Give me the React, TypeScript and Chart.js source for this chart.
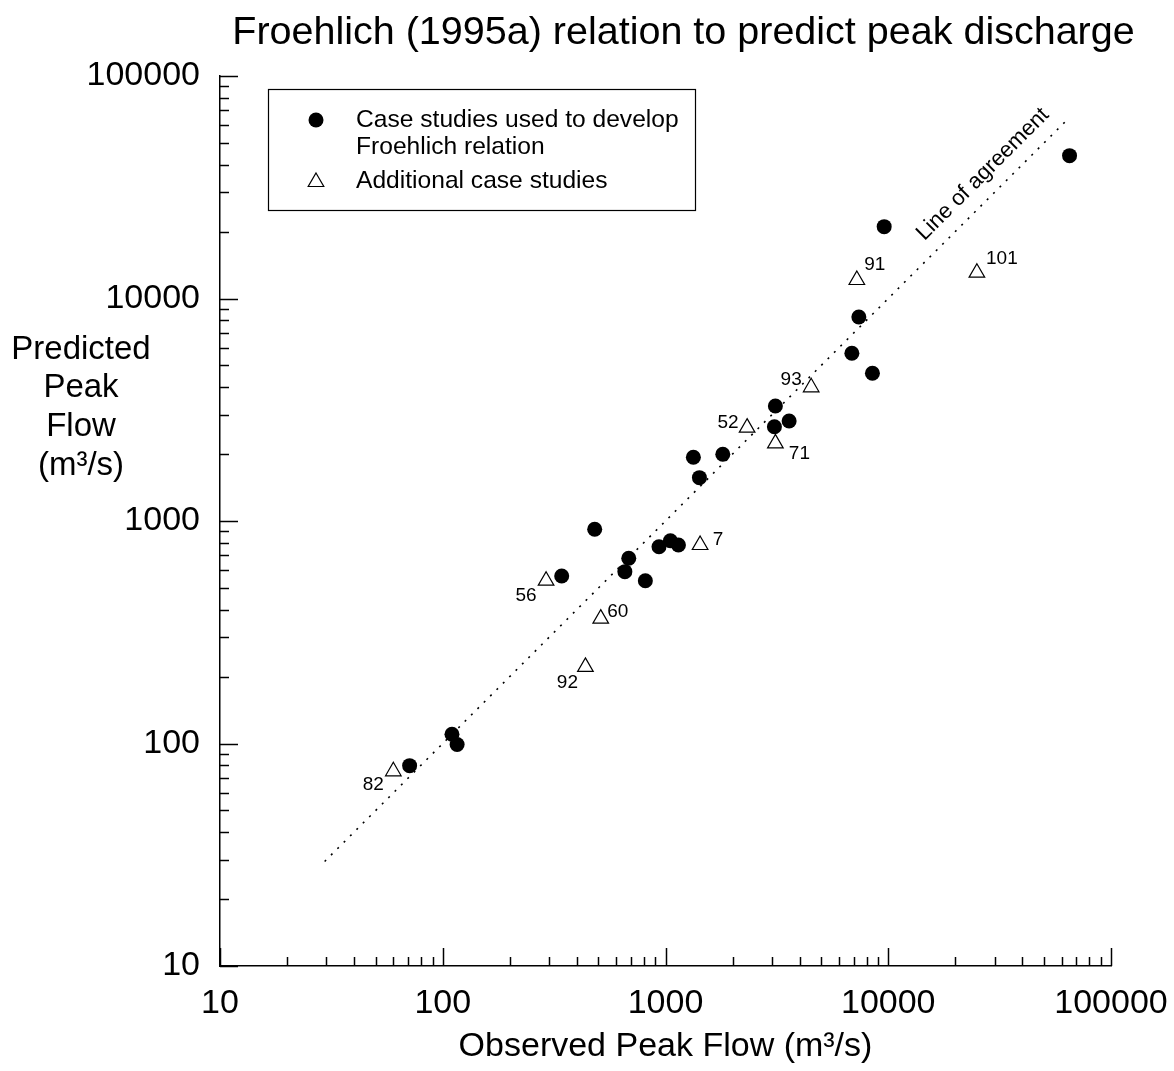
import React, { useEffect, useRef } from "react";
import { Chart, registerables } from "chart.js";

Chart.register(...registerables);

const FONT = '"Liberation Sans", Arial, Helvetica, sans-serif';

// Tick labels (powers of ten on both log axes)
const X_TICKS = [10, 100, 1000, 10000, 100000];
const Y_TICKS = [10, 100, 1000, 10000, 100000];

// Case studies used to develop Froehlich relation (observed, predicted) m^3/s
const developObserved = [71, 110, 116, 342, 481, 657, 684, 812, 935, 1052, 1143, 1334, 1420, 1808, 3114, 3083, 3589, 6866, 7379, 8492, 9589, 65150];
const developPredicted = [79.5, 110, 99, 566, 918, 592, 680, 539, 766, 815, 780, 1933, 1566, 1994, 3288, 2654, 2813, 5673, 8260, 4612, 21030, 43850];

// Additional case studies
const additionalLabels = ["82", "56", "60", "92", "7", "52", "71", "93", "91", "101"];
const additionalObserved = [60, 291, 512, 437, 1430, 2325, 3114, 4508, 7227, 25000];
const additionalPredicted = [75, 539, 364, 221, 780, 2627, 2234, 3990, 12110, 13060];

// Line of agreement (y = x) extent
const agreementRange = [29.5, 64000];
const agreementLabelAt = 31000;

const TITLE = "Froehlich (1995a) relation to predict peak discharge";
const X_TITLE = "Observed Peak Flow (m\u00B3/s)";
const Y_TITLE_LINES = ["Predicted", "Peak", "Flow", "(m\u00B3/s)"];
const LEGEND_LINES_1 = ["Case studies used to develop", "Froehlich relation"];
const LEGEND_LINE_2 = "Additional case studies";

// label offsets (style) for the numbered triangles, in px
const LABEL_OFFSETS: Record<string, [number, number]> = {
  "82": [-20, 13],
  "56": [-20, 15],
  "60": [17, -7],
  "92": [-18, 16],
  "7": [18, -5],
  "52": [-19, -5],
  "71": [24, 10],
  "93": [-20, -8],
  "91": [18, -15],
  "101": [25, -14],
};

function triangle(ctx: CanvasRenderingContext2D, x: number, y: number, r: number) {
  ctx.beginPath();
  let a = 0;
  ctx.moveTo(x + Math.sin(a) * r, y - Math.cos(a) * r);
  a += (2 * Math.PI) / 3;
  ctx.lineTo(x + Math.sin(a) * r, y - Math.cos(a) * r);
  a += (2 * Math.PI) / 3;
  ctx.lineTo(x + Math.sin(a) * r, y - Math.cos(a) * r);
  ctx.closePath();
}

const decorPlugin = {
  id: "decor",
  afterDatasetsDraw(chart: any) {
    const ctx: CanvasRenderingContext2D = chart.ctx;
    const xs = chart.scales.x;
    const ys = chart.scales.y;
    const { left, bottom } = chart.chartArea;
    ctx.save();

    // title
    ctx.fillStyle = "#000";
    ctx.font = `39.5px ${FONT}`;
    ctx.textAlign = "center";
    ctx.textBaseline = "middle";
    ctx.fillText(TITLE, 683.5, 33);

    // inward tick marks
    ctx.strokeStyle = "#000";
    ctx.lineWidth = 1.5;
    const lo = Math.log10(X_TICKS[0]);
    const hi = Math.log10(X_TICKS[X_TICKS.length - 1]);
    for (let e = lo; e <= hi; e++) {
      for (let k = 1; k <= 9; k++) {
        const v = k * Math.pow(10, e);
        if (v > Math.pow(10, hi) + 1e-9) break;
        const len = k === 1 ? 18 : 9;
        const px = Math.round(xs.getPixelForValue(v)) + 0.5;
        ctx.beginPath();
        ctx.moveTo(px, bottom);
        ctx.lineTo(px, bottom - len);
        ctx.stroke();
        const py = Math.round(ys.getPixelForValue(v)) + 0.5;
        ctx.beginPath();
        ctx.moveTo(left, py);
        ctx.lineTo(left + len, py);
        ctx.stroke();
      }
    }

    // numbered labels for the additional case studies
    ctx.fillStyle = "#000";
    ctx.font = `19px ${FONT}`;
    ctx.textAlign = "center";
    ctx.textBaseline = "middle";
    additionalLabels.forEach((lab, i) => {
      const px = xs.getPixelForValue(additionalObserved[i]);
      const py = ys.getPixelForValue(additionalPredicted[i]);
      const off = LABEL_OFFSETS[lab] || [15, -10];
      ctx.fillText(lab, px + off[0], py + off[1]);
    });

    // "Line of agreement" rotated text
    const p1x = xs.getPixelForValue(1000), p1y = ys.getPixelForValue(1000);
    const p2x = xs.getPixelForValue(10000), p2y = ys.getPixelForValue(10000);
    const ang = Math.atan2(p2y - p1y, p2x - p1x);
    const ax = xs.getPixelForValue(agreementLabelAt);
    const ay = ys.getPixelForValue(agreementLabelAt);
    ctx.save();
    ctx.translate(ax, ay);
    ctx.rotate(ang);
    ctx.font = `22px ${FONT}`;
    ctx.fillText("Line of agreement", 0, -21);
    ctx.restore();

    // legend box
    ctx.fillStyle = "#fff";
    ctx.fillRect(268.5, 89.5, 427, 121);
    ctx.strokeStyle = "#000";
    ctx.lineWidth = 1.2;
    ctx.strokeRect(268.5, 89.5, 427, 121);
    ctx.fillStyle = "#000";
    ctx.beginPath();
    ctx.arc(316, 120, 7.5, 0, Math.PI * 2);
    ctx.fill();
    triangle(ctx, 316, 182, 9);
    ctx.fillStyle = "#fff";
    ctx.fill();
    ctx.lineWidth = 1.2;
    ctx.stroke();
    ctx.fillStyle = "#000";
    ctx.font = `24.6px ${FONT}`;
    ctx.textAlign = "left";
    ctx.textBaseline = "middle";
    ctx.fillText(LEGEND_LINES_1[0], 356, 120);
    ctx.fillText(LEGEND_LINES_1[1], 356, 147);
    ctx.fillText(LEGEND_LINE_2, 356, 181);

    // y-axis title (horizontal, multi-line)
    ctx.font = `33px ${FONT}`;
    ctx.textAlign = "center";
    ctx.textBaseline = "alphabetic";
    const baselines = [359, 397, 436, 475];
    Y_TITLE_LINES.forEach((t, i) => ctx.fillText(t, 81, baselines[i]));

    ctx.restore();
  },
};

export default function App() {
  const ref = useRef<HTMLCanvasElement | null>(null);

  useEffect(() => {
    const canvas = ref.current;
    if (!canvas) return;
    Chart.defaults.font.family = FONT;
    Chart.defaults.color = "#000";
    const chart = new Chart(canvas, {
      type: "scatter",
      data: {
        datasets: [
          {
            label: "Line of agreement",
            data: agreementRange.map((v) => ({ x: v, y: v })),
            showLine: true,
            borderColor: "#000",
            borderWidth: 1.6,
            borderDash: [2, 7],
            pointRadius: 0,
            fill: false,
            order: 3,
          },
          {
            label: "Case studies used to develop Froehlich relation",
            data: developObserved.map((x, i) => ({ x, y: developPredicted[i] })),
            pointStyle: "circle",
            pointRadius: 7.5,
            backgroundColor: "#000",
            borderColor: "#000",
            borderWidth: 0,
            order: 1,
          },
          {
            label: "Additional case studies",
            data: additionalObserved.map((x, i) => ({ x, y: additionalPredicted[i] })),
            pointStyle: "triangle",
            pointRadius: 9,
            backgroundColor: "#fff",
            borderColor: "#000",
            borderWidth: 1.2,
            order: 2,
          },
        ],
      },
      options: {
        responsive: false,
        animation: false,
        events: [],
        layout: { padding: { left: 0, right: 63, top: 76, bottom: 0 } },
        plugins: {
          legend: { display: false },
          tooltip: { enabled: false },
          title: { display: false },
        },
        scales: {
          x: {
            type: "logarithmic",
            position: "bottom",
            min: X_TICKS[0],
            max: X_TICKS[X_TICKS.length - 1],
            grid: { display: true, drawOnChartArea: false, drawTicks: false },
            border: { display: true, color: "#000", width: 1.5 },
            afterBuildTicks: (s: any) => {
              s.ticks = X_TICKS.map((v) => ({ value: v }));
            },
            afterFit: (s: any) => {
              s.height = 105;
              s.paddingLeft = 0;
              s.paddingRight = 0;
            },
            ticks: {
              autoSkip: false,
              maxRotation: 0,
              padding: 17.6,
              color: "#000",
              font: { size: 34, family: FONT },
              callback: (v: any) => String(v),
            },
            title: {
              display: true,
              text: X_TITLE,
              color: "#000",
              font: { size: 34, family: FONT },
              padding: { top: 0, bottom: 3.6 },
            },
          },
          y: {
            type: "logarithmic",
            position: "left",
            min: Y_TICKS[0],
            max: Y_TICKS[Y_TICKS.length - 1],
            grid: { display: true, drawOnChartArea: false, drawTicks: false },
            border: { display: true, color: "#000", width: 1.5 },
            afterBuildTicks: (s: any) => {
              s.ticks = Y_TICKS.map((v) => ({ value: v }));
            },
            afterFit: (s: any) => {
              s.width = 220;
              s.paddingTop = 0;
              s.paddingBottom = 0;
            },
            ticks: {
              autoSkip: false,
              padding: 20,
              color: "#000",
              font: { size: 34, family: FONT },
              callback: (v: any) => String(v),
            },
          },
        },
      } as any,
      plugins: [decorPlugin],
    });
    return () => chart.destroy();
  }, []);

  return (
    <div
      style={{
        position: "absolute",
        left: 0,
        top: 0,
        width: 1174,
        height: 1071,
        background: "#fff",
      }}
    >
      <canvas ref={ref} width={1174} height={1071} style={{ display: "block" }} />
    </div>
  );
}
